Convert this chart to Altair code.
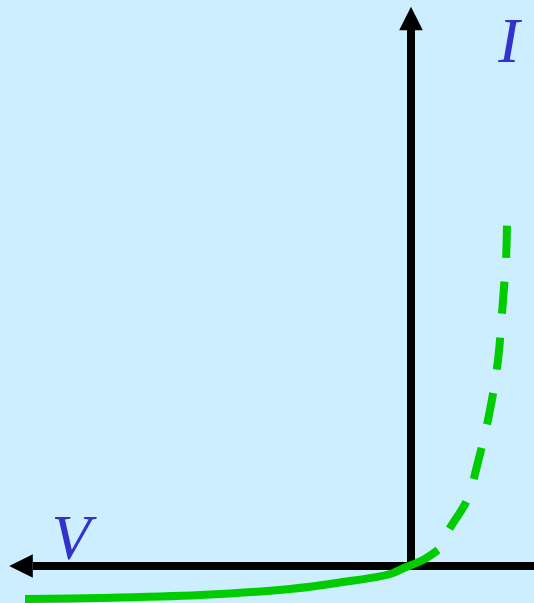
import altair as alt
import pandas as pd

# Current-voltage characteristic, sketched on a bare pair of arrowed axes
solid_v = [-3.86, -3.11, -2.11, -1.21, -0.71, -0.21, -0.06, 0.12, 0.27]
solid_i = [-0.33, -0.32, -0.29, -0.23, -0.165, -0.08, -0.015, 0.06, 0.16]

dashed_v = [0.27, 0.39, 0.56, 0.67, 0.79, 0.87, 0.92, 0.95, 0.96]
dashed_i = [0.16, 0.38, 0.66, 1.04, 1.56, 2.06, 2.66, 3.06, 3.42]

# Axis lines: [start, end] along each axis
v_axis_span = [-3.78, 1.30]
i_axis_span = [-0.04, 5.36]

# Arrow heads (V, I)
arrow_v = [0.0, -3.90]
arrow_i = [5.475, 0.0]
arrow_shape = ["M0,-1L-1,1L1,1Z", "M-1,0L1,-1L1,1Z"]

label_text = ["I", "V"]
label_v = [0.98, -3.40]
label_i = [5.04, 0.07]

BG = "#cceeff"
GREEN = "#00cc00"
TEXT = "#3333cc"

xs = alt.Scale(domain=[-4.11, 1.23], nice=False, zero=False)
ys = alt.Scale(domain=[-0.37, 5.66], nice=False, zero=False)

solid_df = pd.DataFrame({"V": solid_v, "I": solid_i})
dashed_df = pd.DataFrame({"V": dashed_v, "I": dashed_i})
haxis_df = pd.DataFrame({"V": [v_axis_span[0]], "V2": [v_axis_span[1]], "I": [0.0]})
vaxis_df = pd.DataFrame({"V": [0.0], "I": [i_axis_span[0]], "I2": [i_axis_span[1]]})
arrow_df = pd.DataFrame({"V": arrow_v, "I": arrow_i, "shape": arrow_shape})
label_df = pd.DataFrame({"V": label_v, "I": label_i, "t": label_text})

haxis = alt.Chart(haxis_df).mark_rule(color="black", strokeWidth=8).encode(
    x=alt.X("V:Q", scale=xs, axis=None),
    x2="V2:Q",
    y=alt.Y("I:Q", scale=ys, axis=None),
)
vaxis = alt.Chart(vaxis_df).mark_rule(color="black", strokeWidth=8).encode(
    x=alt.X("V:Q", scale=xs, axis=None),
    y=alt.Y("I:Q", scale=ys, axis=None),
    y2="I2:Q",
)
arrows = alt.Chart(arrow_df).mark_point(
    filled=True, color="black", size=560, opacity=1, strokeWidth=0
).encode(
    x=alt.X("V:Q", scale=xs, axis=None),
    y=alt.Y("I:Q", scale=ys, axis=None),
    shape=alt.Shape("shape:N", scale=None, legend=None),
)
solid = alt.Chart(solid_df).mark_line(
    color=GREEN, strokeWidth=8, interpolate="catmull-rom", strokeCap="butt"
).encode(
    x=alt.X("V:Q", scale=xs, axis=None),
    y=alt.Y("I:Q", scale=ys, axis=None),
)
dashed = alt.Chart(dashed_df).mark_line(
    color=GREEN, strokeWidth=8, interpolate="catmull-rom", strokeCap="butt",
    strokeDash=[32, 24], strokeDashOffset=32,
).encode(
    x=alt.X("V:Q", scale=xs, axis=None),
    y=alt.Y("I:Q", scale=ys, axis=None),
)
labels = alt.Chart(label_df).mark_text(
    font="Liberation Serif", fontStyle="italic", fontSize=64,
    color=TEXT, align="center", baseline="alphabetic",
).encode(
    x=alt.X("V:Q", scale=xs, axis=None),
    y=alt.Y("I:Q", scale=ys, axis=None),
    text="t:N",
)

chart = alt.layer(haxis, vaxis, arrows, solid, dashed, labels).properties(
    width=534, height=603, background=BG, padding=0,
    autosize=alt.AutoSizeParams(type="none"),
).configure_view(stroke=None)

chart.save("out.html", embed_options={"renderer": "svg", "actions": False})
